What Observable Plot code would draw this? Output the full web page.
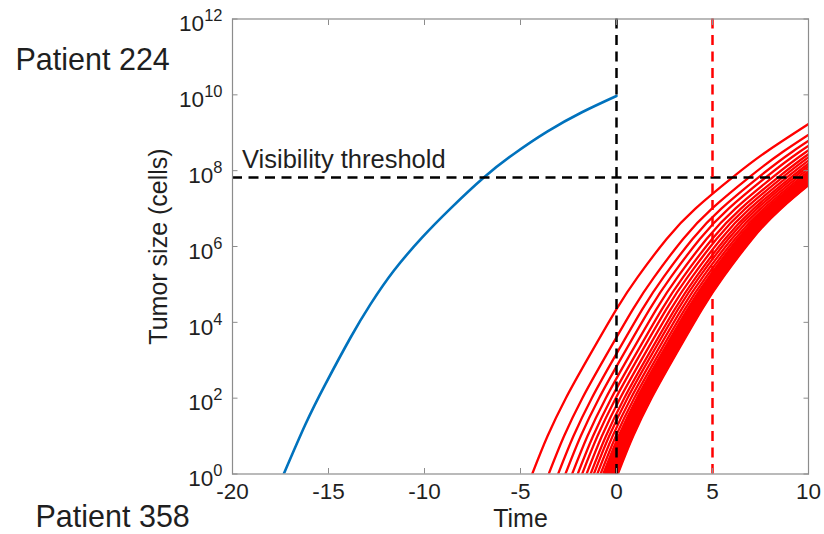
<!DOCTYPE html>
<html>
<head>
<meta charset="utf-8">
<script src="https://cdn.jsdelivr.net/npm/d3@7"></script>
<script src="https://cdn.jsdelivr.net/npm/@observablehq/plot@0.6"></script>
<style>
  html, body { margin: 0; padding: 0; background: #ffffff; }
  #chart { width: 824px; height: 534px; overflow: hidden; }
</style>
</head>
<body>
<div id="chart"></div>
<script>
// ---- data ----
// Patient 224 (blue): time vs log10(tumor size)
const blueTime = [-17.33, -16.2, -15.16, -13.85, -12.81, -11.6, -10.12, -8.65, -6.91, -5.35, -3.61, -1.8, 0];
const blueLog  = [0, 1.31, 2.37, 3.6, 4.48, 5.36, 6.24, 7.0, 7.82, 8.44, 9.03, 9.54, 9.97];

// Red simulated curves: common growth shape (time since onset -> log10 size)
const redPhase = [0, 0.8, 1.75, 2.9, 4.39, 5.5, 7.0, 8.5, 10.5, 12.2, 14.39];
const redLog   = [0, 1.0, 2.0, 3.05, 4.35, 5.2, 6.2, 7.0, 7.85, 8.5, 9.23];
// onset times (where each red curve leaves 10^0)
const redOnsets = [-4.39, -3.53, -3.04, -2.66, -2.31, -2.02, -1.79, -1.56, -1.35, -1.18, -1.0, -0.83,
  -0.69, -0.62, -0.56, -0.5, -0.44, -0.38, -0.32, -0.27, -0.22, -0.17, -0.12, -0.07, -0.02, 0.03, 0.07];

const threshold = 6.6e7;          // visibility threshold (cells)
const diagnosisTime = [0];        // black dashed vertical
const followTime = [5];           // red dashed vertical
const xTicks = [-20, -15, -10, -5, 0, 5, 10];
const yTickExps = [0, 2, 4, 6, 8, 10, 12];
const annotations = [{label: "Visibility threshold", x: -20, y: threshold}];
const patientLabels = ["Patient 224", "Patient 358"];

// ---- tables built from the arrays ----
const blueData = blueTime.map((t, i) => ({t, size: 10 ** blueLog[i]}));
const redData = redOnsets.flatMap((onset, k) =>
  redPhase.map((p, i) => ({run: k, t: onset + p, size: 10 ** redLog[i]})));
const yTicks = yTickExps.map(e => 10 ** e);

const FONT = "'Liberation Sans', Arial, Helvetica, sans-serif";
const AXIS = "#8c8c8c";
const INK = "#1f1f1f";
const dash = "10,6.5";

const plot = Plot.plot({
  width: 824,
  height: 534,
  marginLeft: 232,
  marginRight: 16,
  marginTop: 18.5,
  marginBottom: 60.5,
  style: {fontFamily: FONT, background: "#ffffff"},
  x: {domain: [-20, 10]},
  y: {type: "log", domain: [1, 1e12]},
  marks: [
    Plot.line(blueData, {x: "t", y: "size", stroke: "#0072BD", strokeWidth: 2.6, curve: "natural", clip: true}),
    Plot.line(redData, {x: "t", y: "size", z: "run", stroke: "#FF0000", strokeWidth: 2.3, curve: "natural", clip: true}),
    Plot.ruleY([threshold], {stroke: "#000000", strokeWidth: 2.5, strokeDasharray: dash}),
    Plot.ruleX(diagnosisTime, {stroke: "#000000", strokeWidth: 2.5, strokeDasharray: dash}),
    Plot.ruleX(followTime, {stroke: "#FF0000", strokeWidth: 2.5, strokeDasharray: dash}),
    Plot.frame({stroke: AXIS, strokeWidth: 1.2}),
    // inward ticks on all four sides
    Plot.axisX(xTicks, {anchor: "bottom", tickSize: -5.5, tickFormat: () => "", label: null, stroke: AXIS}),
    Plot.axisX(xTicks, {anchor: "top", tickSize: -5.5, tickFormat: () => "", label: null, stroke: AXIS}),
    Plot.axisY(yTicks, {anchor: "left", tickSize: -5.5, tickFormat: () => "", label: null, stroke: AXIS}),
    Plot.axisY(yTicks, {anchor: "right", tickSize: -5.5, tickFormat: () => "", label: null, stroke: AXIS}),
    // tick labels
    Plot.axisX(xTicks, {anchor: "bottom", tickSize: 0, tickPadding: 9, tickFormat: d => String(d), label: null, fontSize: 22.5, fill: INK}),
    Plot.axisY(yTicks, {anchor: "left", tickSize: 0, tickPadding: 10, dy: 5, tickFormat: d => "10^" + Math.round(Math.log10(d)), label: null, fontSize: 22.5, fill: INK}),
    // axis titles
    Plot.text(["Time"], {text: d => d, frameAnchor: "bottom", lineAnchor: "bottom", dy: 53, fontSize: 25, fill: INK}),
    Plot.text(["Tumor size (cells)"], {text: d => d, frameAnchor: "left", textAnchor: "middle", rotate: -90, lineAnchor: "bottom", dx: -65.5, fontSize: 25, fill: INK}),
    // annotation
    Plot.text(annotations, {x: "x", y: "y", text: "label", textAnchor: "start", lineAnchor: "bottom", dx: 9.5, dy: -10, fontSize: 25.5, fill: INK}),
    // patient labels
    Plot.text([patientLabels[0]], {text: d => d, frameAnchor: "top-left", textAnchor: "start", lineAnchor: "bottom", dx: -217, dy: 50.8, fontSize: 30.5, fill: INK}),
    Plot.text([patientLabels[1]], {text: d => d, frameAnchor: "top-left", textAnchor: "start", lineAnchor: "bottom", dx: -197, dy: 508, fontSize: 30.5, fill: INK})
  ]
});

// superscript exponents on the y tick labels (10^n)
plot.querySelectorAll('g[aria-label="y-axis tick label"] text').forEach(t => {
  const parts = t.textContent.split("^");
  if (parts.length !== 2) return;
  while (t.firstChild) t.removeChild(t.firstChild);
  t.appendChild(document.createTextNode(parts[0]));
  const sup = document.createElementNS("http://www.w3.org/2000/svg", "tspan");
  sup.setAttribute("dy", "-10");
  sup.setAttribute("font-size", "16.5");
  sup.textContent = parts[1];
  t.appendChild(sup);
});

document.getElementById("chart").appendChild(plot);
</script>
</body>
</html>
